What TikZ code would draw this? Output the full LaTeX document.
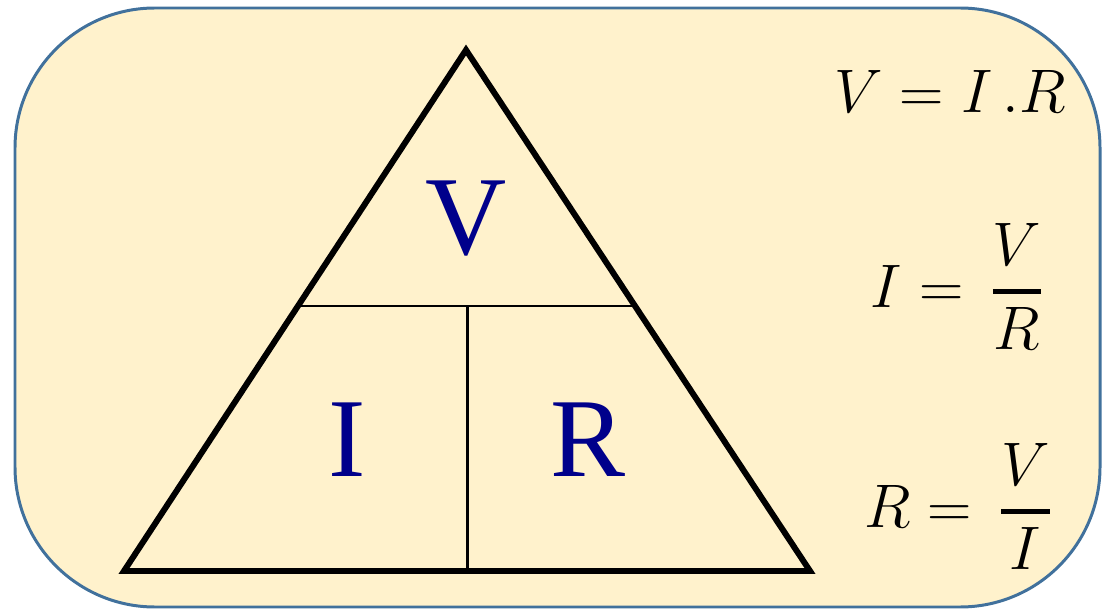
\RequirePackage{fix-cm}
\documentclass[tikz,border=0pt]{standalone}
\usepackage{amsmath}
\usepackage{fontspec}
\setmainfont{Liberation Serif}
\definecolor{boxfill}{HTML}{FFF2CC}
\definecolor{boxline}{HTML}{41719C}
\definecolor{lettercol}{HTML}{00008B}
\newcommand{\thickfrac}[2]{\genfrac{}{}{2.5pt}{0}{#1}{#2}}
\tikzset{
  bigletter/.style={text=lettercol, anchor=base, inner sep=0pt, font=\fontsize{64}{70}\selectfont},
  formula/.style={anchor=base, inner sep=0pt, font=\fontsize{35}{42}\selectfont},
}
\begin{document}
\begin{tikzpicture}[x=0.02cm,y=-0.02cm]
\useasboundingbox (0,0) rectangle (1105,611);
\draw[boxline, fill=boxfill, line width=1.7pt, rounded corners=2.8cm] (15,8) rectangle (1100,607);
\coordinate (top) at (466,50);
\coordinate (bl) at (124,571);
\coordinate (br) at (810,571);
\coordinate (ml) at (298,306);
\coordinate (mr) at (635,306);
\coordinate (mm) at (467,306);
\coordinate (bm) at (467,571);
\draw[line width=3.4pt] (top) -- (bl) -- (br) -- cycle;
\draw[line width=1.7pt] (ml) -- (mr);
\draw[line width=1.7pt] (mm) -- (bm);
\node[bigletter] (vlet) at (466,255) {V};
\node[bigletter] (ilet) at (347,476) {I};
\node[bigletter] (rlet) at (588,476) {R};
\node[formula] (ohm) at (950,113) {$V = I\,.R$};
\node[formula] (curr) at (957,307) {$I = \,\thickfrac{V}{R}$};
\node[formula] (res) at (958,527) {$R = \,\thickfrac{V}{I}$};
\end{tikzpicture}
\end{document}
